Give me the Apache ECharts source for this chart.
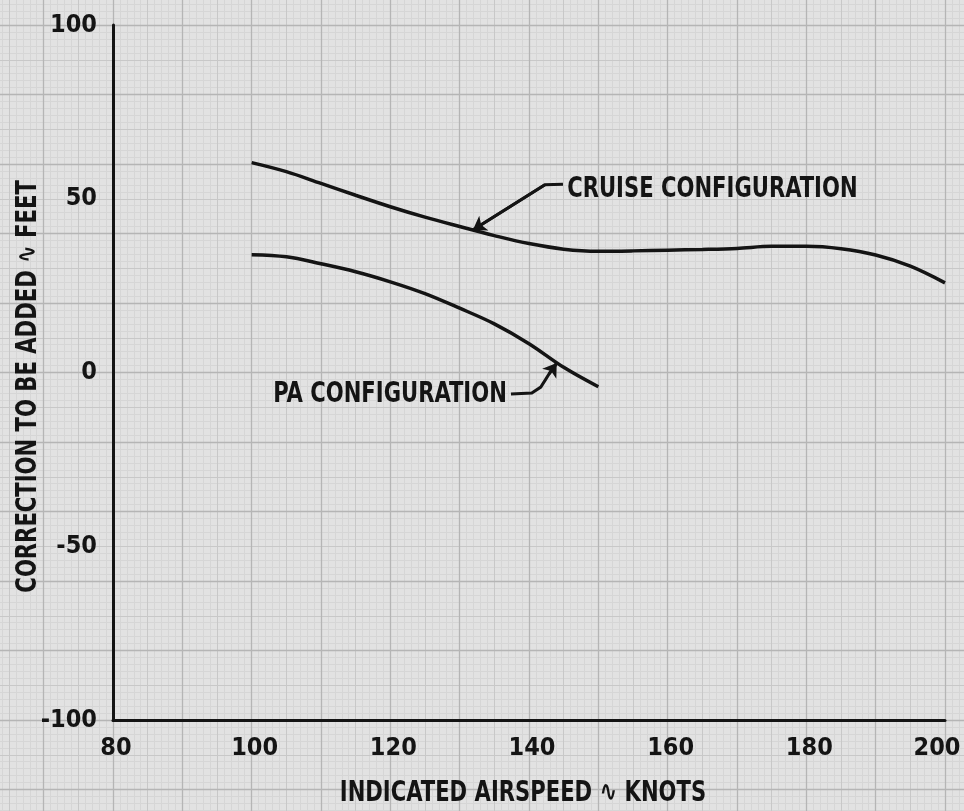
<!DOCTYPE html>
<html>
<head>
<meta charset="utf-8">
<script src="https://cdn.jsdelivr.net/npm/echarts@6/dist/echarts.min.js"></script>
<style>
  html, body { margin: 0; padding: 0; background: #e2e2e2; }
  #chart { width: 964px; height: 811px; }
</style>
</head>
<body>
<div id="chart"></div>
<script>
// Altimeter position-error correction vs. indicated airspeed
const cruiseAirspeed = [100, 105, 110, 115, 120, 125, 130, 135, 140, 145, 150, 155, 160, 165, 170, 175, 180, 185, 190, 195, 200];
const cruiseCorrection = [60.4, 57.8, 54.4, 51.0, 47.7, 44.7, 42.0, 39.4, 37.1, 35.5, 34.9, 35.0, 35.2, 35.4, 35.7, 36.3, 36.3, 35.6, 33.8, 30.6, 25.8];

const paAirspeed = [100, 105, 110, 115, 120, 125, 130, 135, 140, 145, 150];
const paCorrection = [33.9, 33.3, 31.3, 29.0, 26.1, 22.7, 18.5, 14.0, 8.3, 1.5, -4.1];

const xTicks = [80, 100, 120, 140, 160, 180, 200];
const yTicks = [-100, -50, 0, 50, 100];

const xTitle = 'INDICATED AIRSPEED ∿ KNOTS';
const yTitle = 'CORRECTION TO BE ADDED ∿ FEET';

// callout text anchors (left edge, middle) and leader paths, in knots / feet
const cruiseLabel = 'CRUISE CONFIGURATION';
const cruiseLabelAt = [145.5, 52.8];
const cruiseLeader = [[144.9, 54.2], [142.3, 54.0], [131.9, 41.0]];
const paLabel = 'PA CONFIGURATION';
const paLabelAt = [103.1, -6.2];
const paLeader = [[137.4, -6.2], [140.4, -5.9], [141.7, -4.2], [142.9, -0.4], [144.0, 2.7]];

const FONT = "'DejaVu Sans Condensed', 'Liberation Sans Narrow', sans-serif";
const INK = '#141414';
const LETTER_SQUEEZE = 0.81;   // stencil lettering is narrower than the installed face

const chart = echarts.init(document.getElementById('chart'), null, { renderer: 'canvas' });

// graph-paper rulings: a second grid spanning the whole sheet on the same scale
function paperX(interval, color, width, z) {
  return {
    type: 'value', gridIndex: 1, min: 60, max: 210, interval: interval, z: z,
    axisLine: { show: false }, axisTick: { show: false }, axisLabel: { show: false },
    splitLine: { show: true, lineStyle: { color: color, width: width } }
  };
}
function paperY(interval, color, width, z) {
  return {
    type: 'value', gridIndex: 1, min: -140, max: 120, interval: interval, z: z,
    axisLine: { show: false }, axisTick: { show: false }, axisLabel: { show: false },
    splitLine: { show: true, lineStyle: { color: color, width: width } }
  };
}

const tickStyle = { fontFamily: FONT, fontWeight: 'bold', fontSize: 25, color: INK };
const lastSegment = path => path.slice(-2);

chart.setOption({
  backgroundColor: '#e2e2e2',
  animation: false,
  grid: [
    { left: 113, right: 19, top: 25, bottom: 91, containLabel: false, outerBoundsMode: 'none' },
    { left: -25.7, right: -50.3, top: -44.5, bottom: -48, containLabel: false, outerBoundsMode: 'none' }
  ],
  xAxis: [
    {
      type: 'value', gridIndex: 0, min: 80, max: 200, interval: 20, z: 5,
      axisLine: { show: true, onZero: false, lineStyle: { color: INK, width: 3 } },
      axisTick: { show: false },
      splitLine: { show: false },
      axisLabel: Object.assign({}, tickStyle, {
        margin: 16,
        formatter: v => !xTicks.includes(v) ? '' : (v === 200 ? '{edge|' + v + '}' : '{mid|' + v + '}'),
        rich: {
          mid: Object.assign({}, tickStyle, { padding: [0, 0, 0, 6] }),
          edge: Object.assign({}, tickStyle, { padding: [0, 16, 0, 0] })
        }
      })
    },
    paperX(1, '#d6d6d6', 1, 0),
    paperX(5, '#c8c8c8', 1, 1),
    paperX(10, '#b5b5b5', 1.3, 2)
  ],
  yAxis: [
    {
      type: 'value', gridIndex: 0, min: -100, max: 100, interval: 50, z: 5,
      axisLine: { show: true, onZero: false, lineStyle: { color: INK, width: 3 } },
      axisTick: { show: false },
      splitLine: { show: false },
      axisLabel: Object.assign({}, tickStyle, { margin: 16, formatter: v => yTicks.includes(v) ? String(v) : '' })
    },
    paperY(2, '#d6d6d6', 1, 0),
    paperY(10, '#c8c8c8', 1, 1),
    paperY(20, '#b5b5b5', 1.3, 2)
  ],
  series: [
    {
      name: cruiseLabel, type: 'line', xAxisIndex: 0, yAxisIndex: 0, z: 10,
      data: cruiseAirspeed.map((k, i) => [k, cruiseCorrection[i]]),
      smooth: 0.35, showSymbol: false, symbol: 'none',
      lineStyle: { color: INK, width: 3.5 }
    },
    {
      name: paLabel, type: 'line', xAxisIndex: 0, yAxisIndex: 0, z: 10,
      data: paAirspeed.map((k, i) => [k, paCorrection[i]]),
      smooth: 0.35, showSymbol: false, symbol: 'none',
      lineStyle: { color: INK, width: 3.5 }
    },
    {
      // callout leaders
      type: 'lines', coordinateSystem: 'cartesian2d', xAxisIndex: 0, yAxisIndex: 0,
      polyline: true, z: 11, silent: true,
      lineStyle: { color: INK, width: 3, opacity: 1, curveness: 0 },
      data: [{ coords: cruiseLeader }, { coords: paLeader }]
    },
    {
      // arrowheads on the final leg of each leader
      type: 'lines', coordinateSystem: 'cartesian2d', xAxisIndex: 0, yAxisIndex: 0,
      z: 12, silent: true,
      symbol: ['none', 'arrow'], symbolSize: 13,
      lineStyle: { color: INK, width: 3, opacity: 1, curveness: 0 },
      data: [{ coords: lastSegment(cruiseLeader) }, { coords: lastSegment(paLeader) }]
    }
  ]
});

// lettering: axis titles and callouts, placed through the chart's own scales
function letter(text, x, y, opts) {
  return Object.assign({
    type: 'text', x: x, y: y, scaleX: LETTER_SQUEEZE, z: 20, silent: true,
    style: {
      text: text, fill: INK, fontFamily: FONT, fontWeight: 'bold', fontSize: 29,
      align: 'left', verticalAlign: 'middle', textAlign: 'left', textVerticalAlign: 'middle'
    }
  }, opts || {});
}
const toPx = v => chart.convertToPixel({ gridIndex: 0 }, v);
const cruisePx = toPx(cruiseLabelAt);
const paPx = toPx(paLabelAt);
const xMidPx = toPx([140, -100]);
const yMidPx = toPx([80, -4]);

const xT = letter(xTitle, xMidPx[0] - 6, xMidPx[1] + 73);
xT.style.align = xT.style.textAlign = 'center';
const yT = letter(yTitle, yMidPx[0] - 85, yMidPx[1], { rotation: Math.PI / 2 });
yT.style.align = yT.style.textAlign = 'center';

chart.setOption({
  graphic: [
    letter(cruiseLabel, cruisePx[0], cruisePx[1]),
    letter(paLabel, paPx[0], paPx[1]),
    xT,
    yT
  ]
});
</script>
</body>
</html>
